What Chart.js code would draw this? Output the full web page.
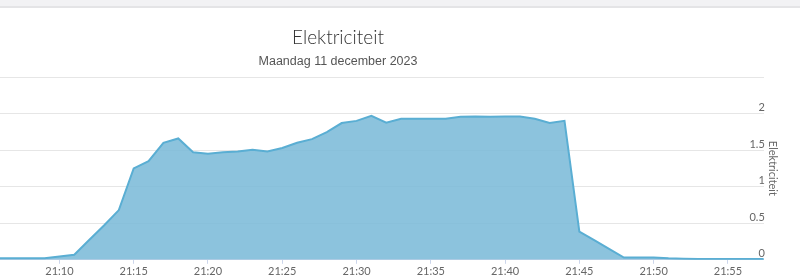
<!DOCTYPE html>
<html>
<head>
<meta charset="utf-8">
<script src="https://cdn.jsdelivr.net/npm/chart.js@4"></script>
<style>
  html, body { margin: 0; padding: 0; background: #fff; }
  #wrap { position: relative; width: 800px; height: 279px; }
  #band { position: absolute; left: 0; top: 0; width: 800px; height: 6px;
          background: #f2f2f4; border-bottom: 2px solid #e4e4e6; }
  canvas { position: absolute; left: 0; top: 0; }
</style>
</head>
<body>
<div id="wrap">
  <canvas id="myChart" width="800" height="279"></canvas>
  <div id="band"></div>
</div>
<script>
// --- data (verbruik per minuut) ---
const chartTitle    = 'Elektriciteit';
const chartSubtitle = 'Maandag 11 december 2023';
const axisTitle     = 'Elektriciteit';

const times = [
  '21:06', '21:07', '21:08', '21:09', '21:10', '21:11', '21:12', '21:13', '21:14', '21:15',
  '21:16', '21:17', '21:18', '21:19', '21:20', '21:21', '21:22', '21:23', '21:24', '21:25',
  '21:26', '21:27', '21:28', '21:29', '21:30', '21:31', '21:32', '21:33', '21:34', '21:35',
  '21:36', '21:37', '21:38', '21:39', '21:40', '21:41', '21:42', '21:43', '21:44', '21:45',
  '21:46', '21:47', '21:48', '21:49', '21:50', '21:51', '21:52', '21:53', '21:54', '21:55',
  '21:56', '21:57:25'
];
const values = [
  0.02, 0.02, 0.02, 0.02, 0.045, 0.07, 0.27, 0.47, 0.68, 1.25,
  1.35, 1.60, 1.66, 1.47, 1.45, 1.47, 1.48, 1.505, 1.48, 1.53,
  1.60, 1.65, 1.745, 1.87, 1.90, 1.97, 1.875, 1.93, 1.93, 1.93,
  1.93, 1.955, 1.96, 1.955, 1.96, 1.96, 1.93, 1.87, 1.90, 0.385,
  0.27, 0.15, 0.03, 0.03, 0.03, 0.02, 0.015, 0.01, 0.01, 0.01,
  0.01, 0.01
];
const xTicks = ['21:10', '21:15', '21:20', '21:25', '21:30', '21:35', '21:40', '21:45', '21:50', '21:55'];
const yTicks = [0, 0.5, 1, 1.5, 2, 2.5];

// "21:15" -> minuten sinds 21:00
function toMin(t) {
  const p = t.split(':').map(Number);
  return (p[0] - 21) * 60 + p[1] + (p[2] || 0) / 60;
}
function fmt(m) {
  const mm = Math.round(m);
  return '21:' + String(mm).padStart(2, '0');
}

const points = times.map((t, i) => ({ x: toMin(t), y: values[i] }));

// titels zoals in het origineel (niet over volle breedte gecentreerd)
const titlePlugin = {
  id: 'titles',
  afterDraw(chart) {
    const ctx = chart.ctx;
    ctx.save();
    ctx.textAlign = 'center';
    ctx.textBaseline = 'alphabetic';
    ctx.fillStyle = '#333';
    ctx.font = '300 19px Lato, "Open Sans", sans-serif';
    ctx.fillText(chartTitle, 338, 44);
    ctx.fillStyle = '#555';
    ctx.font = '12.5px "Liberation Sans", Arial, sans-serif';
    ctx.fillText(chartSubtitle, 338, 65);
    ctx.restore();
  }
};

const ctx = document.getElementById('myChart').getContext('2d');

new Chart(ctx, {
  type: 'line',
  data: {
    datasets: [{
      label: chartTitle,
      data: points,
      borderColor: '#5aaed3',
      backgroundColor: 'rgba(120, 185, 215, 0.85)',
      borderWidth: 2,
      pointRadius: 0,
      fill: 'origin',
      tension: 0
    }]
  },
  options: {
    responsive: false,
    animation: false,
    layout: { padding: { top: 77, left: 0, right: 17, bottom: 0 } },
    plugins: {
      legend: { display: false },
      tooltip: { enabled: false }
    },
    scales: {
      x: {
        type: 'linear',
        min: points[0].x,
        max: points[points.length - 1].x,
        afterBuildTicks: s => { s.ticks = xTicks.map(t => ({ value: toMin(t) })); },
        ticks: {
          color: '#666',
          font: { family: 'Lato, sans-serif', size: 11 },
          maxRotation: 0,
          autoSkip: false,
          padding: 1,
          callback: v => fmt(v)
        },
        grid: { drawOnChartArea: false, drawTicks: true, tickLength: 4, color: '#ccd6eb' },
        border: { color: '#ccd6eb' }
      },
      y: {
        position: 'right',
        min: 0,
        max: 2.5,
        afterBuildTicks: s => { s.ticks = yTicks.map(v => ({ value: v })); },
        ticks: {
          mirror: true,
          padding: 1,
          labelOffset: -6,
          color: '#666',
          font: { family: 'Lato, sans-serif', size: 11 },
          callback: v => (v === 2.5 ? '' : String(v))
        },
        grid: { color: '#e6e6e6', drawTicks: false },
        border: { display: false },
        title: {
          display: true,
          text: axisTitle,
          color: '#666',
          font: { family: 'Lato, sans-serif', size: 11 },
          padding: { top: 4, bottom: 0 }
        }
      }
    }
  },
  plugins: [titlePlugin]
});
</script>
</body>
</html>
